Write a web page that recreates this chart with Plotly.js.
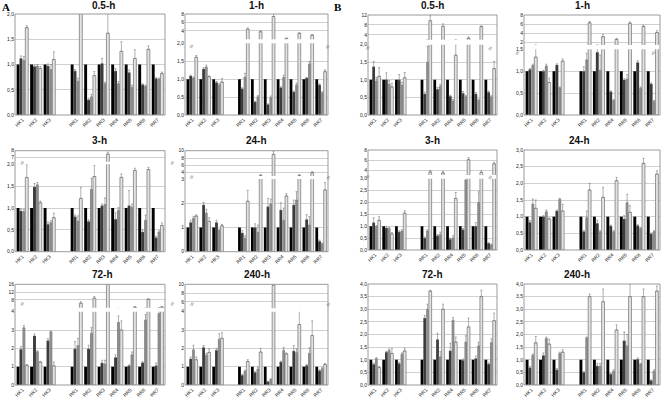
<!DOCTYPE html>
<html>
<head>
<meta charset="utf-8">
<script src="https://cdn.plot.ly/plotly-3.0.1.min.js"></script>
<style>html,body{margin:0;padding:0;background:#fff;}#chart{width:662px;height:401px;}</style>
</head>
<body>
<div id="chart"></div>
<script>
// ---------- DATA ----------
const catsA = ["HK1","HK2","HK3","RR1","RR2","RR3","RR4","RR5","RR6","RR7"];
const catsB = ["HK1","HK2","HK3","RR1","RR2","RR4","RR5","RR6","RR7"];
const seriesNames = ["control","treatment 1","treatment 2","treatment 3"];

// Panel A 0.5-h
const a05_s1 = [1,1,1,1,1,1,1,1,1,1];
const a05_s2 = [1.12,0.96,0.97,0.87,0.30,1.02,0.87,0.84,0.60,0.72];
const a05_s3 = [1.08,0.97,0.90,0.67,0.36,0.62,0.62,0.55,0.57,0.71];
const a05_s4 = [1.73,0.92,1.10,2.05,0.78,1.62,1.26,1.12,1.30,0.82];
const a05_e2 = [0.05,0.03,0.04,0.03,0.03,0.10,0.05,0.05,0.02,0.02];
const a05_e3 = [0.08,0.03,0.10,0.06,0.05,0.03,0.04,0.04,0.02,0.02];
const a05_e4 = [0.04,0.04,0.15,0.10,0.08,0.45,0.19,0.17,0.07,0.03];
// Panel A 1-h
const a1_s1 = [1,1,1,1,1,1,1,1,1,1];
const a1_s2 = [1.09,1.28,0.91,0.73,0.36,0.29,0.76,0.64,1.03,0.84];
const a1_s3 = [1.03,1.34,0.84,1.06,0.51,0.48,1.05,0.84,1.42,0.62];
const a1_s4 = [1.61,1.07,0.92,4.4,3.8,7.4,2.2,3.4,3.0,1.21];
const a1_e2 = [0.02,0.04,0.03,0.03,0.02,0.02,0.03,0.03,0.02,0.03];
const a1_e3 = [0.03,0.05,0.03,0.10,0.03,0.05,0.06,0.05,0.07,0.03];
const a1_e4 = [0.05,0.02,0.10,0.30,0.20,0.60,0.10,0.15,0.15,0.05];
// Panel B 0.5-h
const b05_s1 = [1,1,1,1,1,1,1,1,1];
const b05_s2 = [1.37,1.0,1.0,0.6,0.73,0.53,0.62,0.6,0.65];
const b05_s3 = [0.97,0.88,0.85,1.5,0.82,0.4,0.52,0.42,0.52];
const b05_s4 = [1.1,0.8,1.06,9.7,7.4,1.7,2.6,7.3,1.32];
const b05_e2 = [0.15,0.2,0.15,0.05,0.05,0.03,0.05,0.04,0.03];
const b05_e3 = [0.1,0.1,0.08,0.45,0.05,0.04,0.03,0.03,0.03];
const b05_e4 = [0.25,0.1,0.15,2.0,1.0,0.3,0.5,0.3,0.2];
// Panel B 1-h
const b1_s1 = [1,1,1,1,1,1,1,1,1];
const b1_s2 = [1.04,1.0,1.14,1.0,1.43,0.53,0.8,1.2,0.71];
const b1_s3 = [1.13,1.12,0.62,1.26,1.02,0.33,0.82,0.61,0.31];
const b1_s4 = [1.32,0.74,1.23,6.3,3.3,2.7,6.2,5.5,4.2];
const b1_e2 = [0.02,0.02,0.03,0.1,0.1,0.02,0.03,0.04,0.02];
const b1_e3 = [0.03,0.04,0.02,0.15,0.35,0.02,0.1,0.03,0.02];
const b1_e4 = [0.2,0.1,0.05,0.3,0.5,0.2,0.3,0.3,0.4];
// Panel A 3-h
const a3_s1 = [1,1,1,1,1,1,1,1,1,1];
const a3_s2 = [0.93,1.48,0.63,0.80,0.69,1.05,0.74,1.05,0.45,0.32];
const a3_s3 = [0.92,1.53,0.67,0.70,1.43,1.08,0.95,1.02,0.72,0.45];
const a3_s4 = [1.70,1.12,0.78,1.22,1.72,7.5,1.70,1.86,1.88,0.60];
const a3_e2 = [0.05,0.08,0.05,0.04,0.04,0.04,0.15,0.35,0.05,0.03];
const a3_e3 = [0.05,0.05,0.04,0.12,0.25,0.15,0.06,0.07,0.12,0.03];
const a3_e4 = [0.30,0.04,0.10,0.25,0.25,0.30,0.08,0.05,0.05,0.06];
// Panel A 24-h
const a24_s1 = [1,1,1,1,1,1,1,1,1,1];
const a24_s2 = [1.2,1.93,1.2,0.77,1.0,1.85,1.72,1.93,1.33,0.43];
const a24_s3 = [1.38,1.6,0.88,0.55,0.8,1.97,1.3,2.13,1.1,0.33];
const a24_s4 = [1.47,1.25,1.07,2.08,3.2,9.0,2.3,3.2,4.0,2.55];
const a24_e2 = [0.1,0.1,0.1,0.1,0.15,0.35,0.3,0.2,0.2,0.05];
const a24_e3 = [0.08,0.15,0.05,0.1,0.3,0.2,0.5,0.35,0.35,0.03];
const a24_e4 = [0.05,0.15,0.05,0.45,0.3,0.8,0.1,0.3,0.3,0.3];
// Panel B 3-h
const b3_s1 = [1,1,1,1,1,1,1,1,1];
const b3_s2 = [1.15,0.93,0.76,0.5,0.6,0.45,0.85,1.0,0.28];
const b3_s3 = [0.98,0.9,0.8,0.8,0.65,0.5,2.95,2.0,0.22];
const b3_s4 = [1.25,0.68,1.55,3.7,3.5,2.17,6.1,3.6,5.3];
const b3_e2 = [0.2,0.05,0.05,0.05,0.05,0.05,0.05,0.15,0.03];
const b3_e3 = [0.05,0.05,0.05,0.05,0.1,0.1,0.1,0.45,0.03];
const b3_e4 = [0.15,0.05,0.1,0.3,0.3,0.25,0.4,0.3,0.3];
// Panel B 24-h
const b24_s1 = [1,1,1,1,1,1,1,1,1];
const b24_s2 = [0.83,1.0,1.17,0.55,0.8,0.72,0.93,0.73,0.48];
const b24_s3 = [1.38,1.15,1.52,0.97,0.55,0.55,1.42,0.65,0.55];
const b24_s4 = [1.25,0.93,1.17,1.8,1.58,2.08,1.13,2.6,2.28];
const b24_e2 = [0.05,0.03,0.03,0.03,0.1,0.03,0.1,0.03,0.03];
const b24_e3 = [0.15,0.05,0.03,0.2,0.03,0.03,0.25,0.03,0.03];
const b24_e4 = [0.25,0.03,0.2,0.2,0.3,0.1,0.2,0.15,0.1];
// Panel A 72-h
const a72_s1 = [1,1,1,1,1,1,1,1,1,1];
const a72_s2 = [1.95,2.68,2.42,1.97,1.97,1.2,1.5,1.05,1.22,1.05];
const a72_s3 = [3.13,1.82,2.9,2.15,2.83,1.15,3.42,1.65,3.55,3.9];
const a72_s4 = [1.07,1.25,1.05,6.3,8.9,16,3.0,4.3,8.3,4.3];
const a72_e2 = [0.15,0.1,0.1,0.4,0.2,0.15,0.15,0.05,0.05,0.15];
const a72_e3 = [0.12,0.05,0.05,0.4,0.3,0.2,0.35,0.15,0.3,0.1];
const a72_e4 = [0.05,0.03,0.2,0.8,0.8,0.5,0.5,0.2,0.3,0.3];
// Panel A 240-h
const a240_s1 = [1,1,1,1,1,1,1,1,1,1];
const a240_s2 = [1.42,2.05,1.9,0.53,0.68,0.18,1.25,1.85,1.07,0.78];
const a240_s3 = [1.92,1.63,2.5,0.75,0.87,0.30,1.9,1.78,1.73,0.90];
const a240_s4 = [1.38,1.78,2.55,1.28,1.80,9.8,1.70,3.3,2.7,1.12];
const a240_e2 = [0.1,0.1,0.1,0.05,0.05,0.02,0.05,0.3,0.05,0.05];
const a240_e3 = [0.25,0.1,0.3,0.05,0.1,0.04,0.15,0.2,0.3,0.05];
const a240_e4 = [0.15,0.2,0.3,0.1,0.2,0.3,0.05,0.8,0.8,0.05];
// Panel B 72-h
const b72_s1 = [1,1,1,1,1,1,1,1,1];
const b72_s2 = [0.82,1.3,0.85,2.65,1.8,1.35,0.98,1.05,0.83];
const b72_s3 = [1.05,1.38,1.22,3.0,1.12,2.57,1.7,1.55,1.68];
const b72_s4 = [0.7,1.25,1.35,3.72,3.0,1.7,2.3,3.5,2.55];
const b72_e2 = [0.05,0.03,0.05,0.1,0.25,0.3,0.05,0.1,0.05];
const b72_e3 = [0.03,0.05,0.05,0.2,0.2,0.1,0.25,0.15,0.15];
const b72_e4 = [0.03,0.2,0.1,0.03,0.2,0.2,0.35,0.25,0.3];
// Panel B 240-h
const b240_s1 = [1,1,1,1,1,1,1,1,1];
const b240_s2 = [0.68,1.17,0.6,0.5,0.75,0.43,1.75,1.02,0.18];
const b240_s3 = [1.18,1.85,1.25,1.87,0.75,0.55,1.55,0.83,0.55];
const b240_s4 = [1.67,1.62,1.3,3.5,3.3,2.18,3.5,3.5,3.72];
const b240_e2 = [0.05,0.1,0.05,0.03,0.1,0.03,0.35,0.05,0.02];
const b240_e3 = [0.05,0.05,0.05,0.03,0.1,0.05,0.45,0.03,0.05];
const b240_e4 = [0.25,0.2,0.1,0.1,0.5,0.2,0.5,0.3,0.2];

// ---------- LAYOUT CONFIG ----------
const W = 662, H = 401;
const panels = [
  {title:'0.5-h', cats:catsA, s:[a05_s1,a05_s2,a05_s3,a05_s4], e:[null,a05_e2,a05_e3,a05_e4], x:[15,165],
   low:{px:[14,115], range:[0,2], dtick:0.5, fmt:'.1f'}},
  {title:'1-h', cats:catsA, s:[a1_s1,a1_s2,a1_s3,a1_s4], e:[null,a1_e2,a1_e3,a1_e4], x:[185,328],
   low:{px:[43.3,115], range:[0,2], dtick:0.5, fmt:'.1f'}, up:{px:[14,39.3], range:[2,8], tickvals:[4,6,8]}},
  {title:'0.5-h', cats:catsB, s:[b05_s1,b05_s2,b05_s3,b05_s4], e:[null,b05_e2,b05_e3,b05_e4], x:[368,497],
   low:{px:[44.7,115], range:[0,2], dtick:0.5, fmt:'.1f'}, up:{px:[15,39.7], range:[2,12], tickvals:[4,8,12]}},
  {title:'1-h', cats:catsB, s:[b1_s1,b1_s2,b1_s3,b1_s4], e:[null,b1_e2,b1_e3,b1_e4], x:[524,660],
   low:{px:[49.3,115], range:[0,1.5], dtick:0.5, fmt:'.1f'}, up:{px:[15,45], range:[1.5,8], tickvals:[2,4,6,8]}},
  {title:'3-h', cats:catsA, s:[a3_s1,a3_s2,a3_s3,a3_s4], e:[null,a3_e2,a3_e3,a3_e4], x:[15,165],
   low:{px:[164.3,251.7], range:[0,2], dtick:0.5, fmt:'.1f'}, up:{px:[150.7,161.7], range:[6.4,8], tickvals:[7,8]}},
  {title:'24-h', cats:catsA, s:[a24_s1,a24_s2,a24_s3,a24_s4], e:[null,a24_e2,a24_e3,a24_e4], x:[185,328],
   low:{px:[179,251.7], range:[0,3], dtick:1, fmt:'d'}, up:{px:[150.7,176], range:[3.1,10], tickvals:[4,6,8,10]}},
  {title:'3-h', cats:catsB, s:[b3_s1,b3_s2,b3_s3,b3_s4], e:[null,b3_e2,b3_e3,b3_e4], x:[368,497],
   low:{px:[178.7,250], range:[0,3], dtick:0.5, fmt:'.1f'}, up:{px:[150,175], range:[3.1,8], tickvals:[4,6,8]}},
  {title:'24-h', cats:catsB, s:[b24_s1,b24_s2,b24_s3,b24_s4], e:[null,b24_e2,b24_e3,b24_e4], x:[524,660],
   low:{px:[150,250], range:[0,3], dtick:0.5, fmt:'.1f'}},
  {title:'72-h', cats:catsA, s:[a72_s1,a72_s2,a72_s3,a72_s4], e:[null,a72_e2,a72_e3,a72_e4], x:[15,165],
   low:{px:[311.7,385], range:[0,4], dtick:1, fmt:'d'}, up:{px:[284.3,307.7], range:[4,16], tickvals:[8,12,16]}},
  {title:'240-h', cats:catsA, s:[a240_s1,a240_s2,a240_s3,a240_s4], e:[null,a240_e2,a240_e3,a240_e4], x:[185,328],
   low:{px:[311.7,385], range:[0,4], dtick:1, fmt:'d'}, up:{px:[284.3,308.3], range:[4.5,10], tickvals:[6,8,10]}},
  {title:'72-h', cats:catsB, s:[b72_s1,b72_s2,b72_s3,b72_s4], e:[null,b72_e2,b72_e3,b72_e4], x:[368,497],
   low:{px:[284,385], range:[0,4], dtick:0.5, fmt:'.1f'}},
  {title:'240-h', cats:catsB, s:[b240_s1,b240_s2,b240_s3,b240_s4], e:[null,b240_e2,b240_e3,b240_e4], x:[524,660],
   low:{px:[284,385], range:[0,4], dtick:0.5, fmt:'.1f'}},
];
const titleY = [5, 140, 274];

const fills = ['#000000','#3c3c3c','#8c8c8c','#e2e2e2'];
const lines = ['#000000','#3c3c3c','#8c8c8c','#707070'];
const FONT = 'Liberation Sans, Arial, sans-serif';

function ydom(p){ return [1 - p[1]/H, 1 - p[0]/H]; }
function xdom(p){ return [p[0]/W, p[1]/W]; }

const traces = [];
const layout = {
  width: W, height: H, margin:{l:0,r:0,t:0,b:0},
  paper_bgcolor:'#fff', plot_bgcolor:'rgba(0,0,0,0)',
  showlegend:false, barmode:'group', bargap:0.14, bargroupgap:0,
  separators: ',.',
  font:{family:FONT, size:5, color:'#222'},
  shapes:[], annotations:[]
};

let yCount = 0;
panels.forEach((pn, i) => {
  const xi = i + 1;
  const xName = xi === 1 ? 'x' : 'x' + xi;
  const xKey = xi === 1 ? 'xaxis' : 'xaxis' + xi;
  const pos = pn.cats.map((c, j) => j + (j >= 3 ? 1 : 0));
  const nPos = pos[pos.length - 1];

  yCount++;
  const yLowName = yCount === 1 ? 'y' : 'y' + yCount;
  const yLowKey = yCount === 1 ? 'yaxis' : 'yaxis' + yCount;
  let yUpName = null, yUpKey = null;
  if (pn.up) { yCount++; yUpName = 'y' + yCount; yUpKey = 'yaxis' + yCount; }

  layout[xKey] = {
    domain: xdom(pn.x), anchor: yLowName, range:[-0.55, nPos + 0.55],
    tickmode:'array', tickvals: pos, ticktext: pn.cats, tickangle:-45,
    tickfont:{size:5, family:FONT, color:'#222'}, showgrid:false, zeroline:false,
    showline:false, ticks:'', fixedrange:true
  };
  layout[yLowKey] = {
    domain: ydom(pn.low.px), anchor: xName, range: pn.low.range, dtick: pn.low.dtick,
    tickformat: pn.low.fmt, tick0:0, showgrid:true, gridcolor:'#c4c4c4', gridwidth:0.8,
    zeroline:false, showline:false, ticks:'', tickfont:{size:5, family:FONT, color:'#222'}, fixedrange:true
  };
  if (pn.up) {
    layout[yUpKey] = {
      domain: ydom(pn.up.px), anchor: xName, range: pn.up.range, tickmode:'array',
      tickvals: pn.up.tickvals, ticktext: pn.up.tickvals.map(String),
      showgrid:true, gridcolor:'#c4c4c4', gridwidth:0.8, zeroline:false, showline:false, ticks:'',
      tickfont:{size:5, family:FONT, color:'#222'}, fixedrange:true
    };
  }

  const targets = [yLowName].concat(pn.up ? [yUpName] : []);
  targets.forEach(yn => {
    pn.s.forEach((vals, k) => {
      const t = {
        type:'bar', x: pos, y: vals, xaxis: xName, yaxis: yn, name: seriesNames[k],
        marker:{color: fills[k], line:{color: lines[k], width: k === 3 ? 0.7 : 0}},
        hoverinfo:'skip'
      };
      if (pn.e[k]) {
        t.error_y = {type:'data', array: pn.e[k], arrayminus: pn.e[k].map(() => 0), symmetric:false,
                     color:'#7a7a7a', thickness:0.6, width:1};
      }
      traces.push(t);
    });
  });

  // frame
  const top = pn.up ? pn.up.px[0] : pn.low.px[0];
  const bot = pn.low.px[1];
  layout.shapes.push({type:'rect', xref:'paper', yref:'paper',
    x0: pn.x[0]/W, x1: pn.x[1]/W, y0: 1 - bot/H, y1: 1 - top/H,
    line:{color:'#9a9a9a', width:1}, fillcolor:'rgba(0,0,0,0)', layer:'above'});
  // break marks
  if (pn.up) {
    const gy = 1 - ((pn.up.px[1] + pn.low.px[0]) / 2) / H;
    [pn.x[0], pn.x[1]].forEach(px => {
      layout.annotations.push({xref:'paper', yref:'paper', x: px / W, y: gy, text:'≈',
        showarrow:false, textangle:-70, font:{size:7, color:'#666', family:FONT}});
    });
  }
  // title
  const row = Math.floor(i / 4);
  layout.annotations.push({xref:'paper', yref:'paper', x: (pn.x[0] + pn.x[1]) / 2 / W,
    y: 1 - titleY[row] / H, yanchor:'middle', text:'<b>' + pn.title + '</b>', showarrow:false,
    font:{size:10, family:FONT, color:'#111'}});
});

layout.annotations.push({xref:'paper', yref:'paper', x: 1/W, y: 1, xanchor:'left', yanchor:'top', borderpad:0,
  text:'<b>A</b>', showarrow:false, font:{size:11, family:'Liberation Serif, Times New Roman, serif', color:'#000'}});
layout.annotations.push({xref:'paper', yref:'paper', x: 333/W, y: 1, xanchor:'left', yanchor:'top', borderpad:0,
  text:'<b>B</b>', showarrow:false, font:{size:11, family:'Liberation Serif, Times New Roman, serif', color:'#000'}});

Plotly.newPlot('chart', traces, layout, {staticPlot:true, displayModeBar:false});
</script>
</body>
</html>
